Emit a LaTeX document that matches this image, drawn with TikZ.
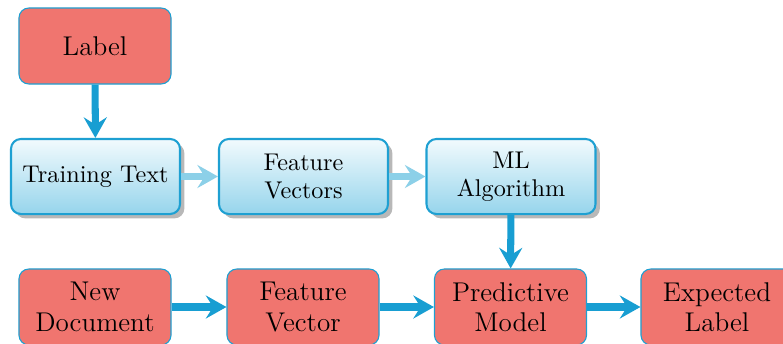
\documentclass[tikz,border=0pt]{standalone}
\usetikzlibrary{arrows.meta,shadows,positioning}
\definecolor{salmon}{RGB}{240,117,111}
\definecolor{bord}{RGB}{30,160,210}
\definecolor{gradtop}{RGB}{242,250,253}
\definecolor{gradbot}{RGB}{150,213,236}
\definecolor{darrow}{RGB}{24,158,210}
\definecolor{larrow}{RGB}{140,208,232}
\tikzset{
  redbox/.style={draw=bord, line width=0.45pt, fill=salmon, rounded corners=4.1pt,
    minimum width=62.8pt, minimum height=31.4pt, align=center, inner sep=1pt,
    font=\fontsize{11.2}{12.5}\selectfont},
  bluebox/.style={draw=bord, line width=0.85pt, rounded corners=4.1pt,
    top color=gradtop, bottom color=gradbot,
    drop shadow={shadow xshift=1.8pt, shadow yshift=-1.8pt, fill=black!35, opacity=0.8},
    minimum width=69.8pt, minimum height=31pt, align=center, inner sep=1pt,
    font=\fontsize{10}{11.6}\selectfont},
  bigarrow/.style={draw=darrow, line width=2.9pt, -{Stealth[length=8.5pt,width=9.5pt,inset=3pt]}},
  lightarrow/.style={draw=larrow, line width=2.9pt, -{Stealth[length=8.5pt,width=9.5pt,inset=3pt]}},
}
\begin{document}
\begin{tikzpicture}[x=0.413pt,y=-0.413pt]
\clip (0,0) rectangle (783,343);
\useasboundingbox (0,0) rectangle (783,343);
\node[redbox] (label) at (95,46) {Label};
\node[bluebox] (tt) at (95.5,176.5) {Training Text};
\node[bluebox] (fvs) at (303.5,176.5) {Feature\\Vectors};
\node[bluebox] (ml) at (511,176.5) {ML\\Algorithm};
\node[redbox] (nd) at (95,307) {New\\Document};
\node[redbox] (fv) at (303,307) {Feature\\Vector};
\node[redbox] (pm) at (510.5,307) {Predictive\\Model};
\node[redbox] (el) at (717,307) {Expected\\Label};
\draw[bigarrow] (label) -- (tt);
\draw[lightarrow] (tt) -- (fvs);
\draw[lightarrow] (fvs) -- (ml);
\draw[bigarrow] (ml) -- (pm);
\draw[bigarrow] (nd) -- (fv);
\draw[bigarrow] (fv) -- (pm);
\draw[bigarrow] (pm) -- (el);
\end{tikzpicture}
\end{document}
